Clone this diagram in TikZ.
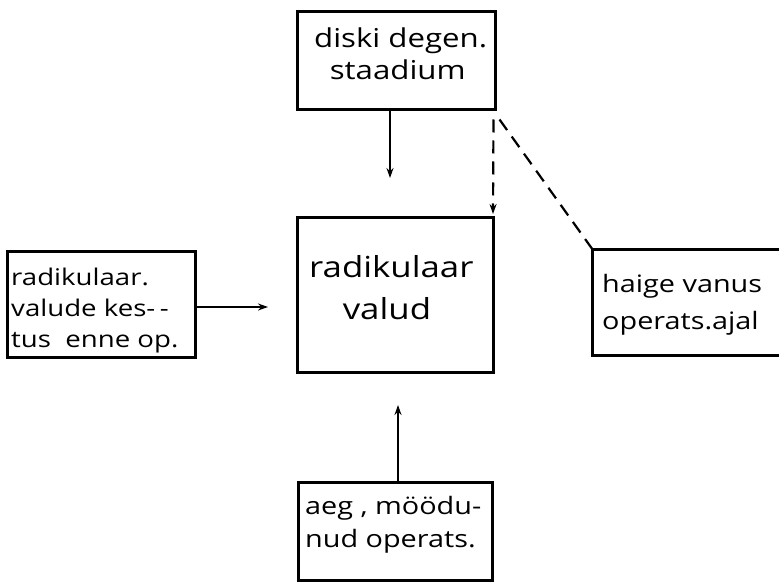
\documentclass[tikz,border=0pt]{standalone}
\usepackage{fontspec}
\usepackage{graphicx}
\newfontfamily\hand{Open Sans}
\newcommand{\hw}[1]{\scalebox{1.2}[1]{\begin{tabular}{@{}l@{}}#1\end{tabular}}}
\usetikzlibrary{arrows.meta}
\tikzset{
    box/.style={draw, line width=3pt, inner sep=0pt},
    txt/.style={anchor=west, inner sep=0pt, font=\hand\fontsize{24}{33}\selectfont},
    link/.style={line width=2.2pt, -{Stealth[length=10pt,width=7pt]}},
    dashlink/.style={line width=2.2pt, dash pattern=on 13pt off 8pt}
}
\begin{document}
\begin{tikzpicture}[x=1pt,y=-1pt]
            \useasboundingbox (0,0) rectangle (779,585);
            \node[box, minimum width=198pt, minimum height=98pt] (stage) at (396,61) {};
            \node[box, minimum width=196pt, minimum height=155pt] (pain) at (395,295) {};
            \node[box, minimum width=188pt, minimum height=105pt] (duration) at (101,304.5) {};
            \node[inner sep=0pt, minimum width=188pt, minimum height=105pt] (age) at (687,302.5) {};
            \node[box, minimum width=194pt, minimum height=98pt] (time) at (395,531) {};
            % right box runs off the page
            \draw[line width=3pt] (age.north east) -- (age.north west) -- (age.south west) -- (age.south east);
            \node[txt, font=\hand\fontsize{26}{32}\selectfont] (stagetxt) at (314,57)
                {\hw{diski degen.\\\hspace*{13pt}staadium}};
            \node[txt, font=\hand\fontsize{29}{42}\selectfont] (paintxt) at (309,290)
                {\hw{radikulaar\\\hspace*{28pt}valud}};
            \node[txt, font=\hand\fontsize{23}{31}\selectfont] (durationtxt) at (11,310)
                {\hw{radikulaar.\\valude kes-\,-\\tus\ \ enne op.}};
            \node[txt, font=\hand\fontsize{24}{37}\selectfont] (agetxt) at (602,304)
                {\hw{haige vanus\\operats.ajal}};
            \node[txt] (timetxt) at (305,524) {\hw{aeg , möödu-\\nud operats.}};
            \coordinate (topin) at (390,178);
            \coordinate (dashin) at (493,214);
            \coordinate (leftin) at (268,307);
            \coordinate (botin) at (398,405);
            \draw[link] (stage.south -| topin) -- (topin);
            \draw[link, dashlink] ([xshift=-3pt,yshift=-8pt]stage.south east) -- (dashin);
            \draw[dashlink] ([xshift=3pt,yshift=-8pt]stage.south east) -- (age.north west);
            \draw[link] (duration.east |- leftin) -- (leftin);
            \draw[link] (time.north -| botin) -- (botin);
        \end{tikzpicture}
\end{document}
